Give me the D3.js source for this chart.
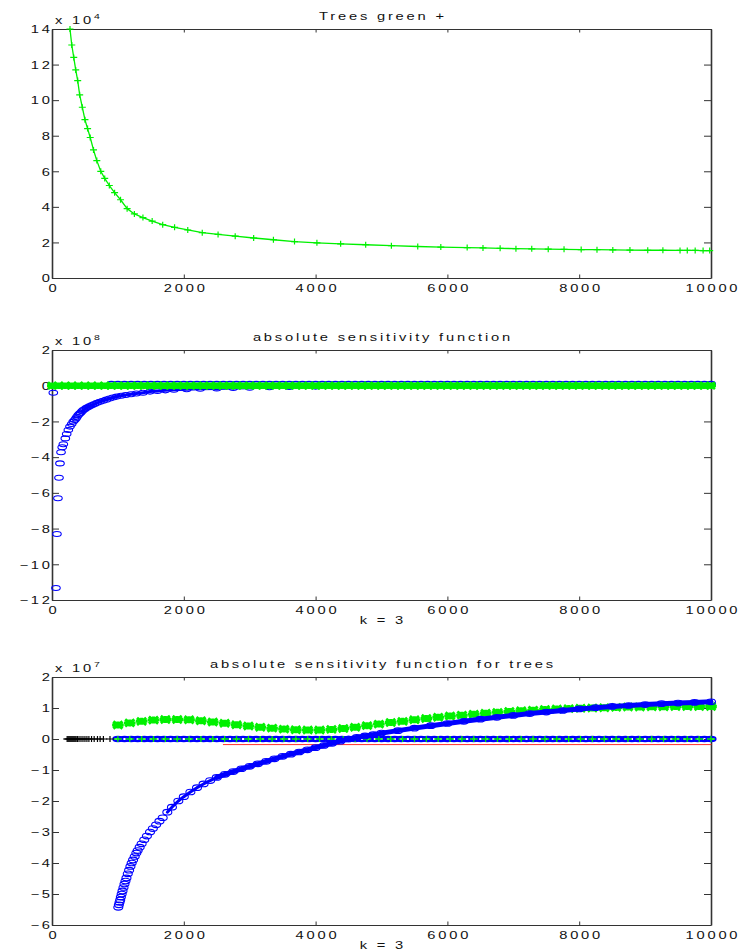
<!DOCTYPE html>
<html><head><meta charset="utf-8">
<script src="https://cdn.jsdelivr.net/npm/d3@7"></script>
<style>body{margin:0;background:#fff}</style>
</head><body><svg id="c" width="740" height="951"></svg>
<script>
// ---------- data ----------
const xTicks = [0, 2000, 4000, 6000, 8000, 10000];
const p1Ticks = [0, 2, 4, 6, 8, 10, 12, 14];
const p2Ticks = [-12, -10, -8, -6, -4, -2, 0, 2];
const p3Ticks = [-6, -5, -4, -3, -2, -1, 0, 1, 2];
const titles = ["Trees green +", "absolute sensitivity function", "absolute sensitivity function for trees"];
const exponents = ["4", "8", "7"];
const xLabel = "k = 3";

const kGrid = [0,100,200,300,400,500,600,700,800,900,1000,1100,1200,1300,1400,1500,1600,1700,1800,1900,2000,2100,2200,2300,2400,2500,2600,2700,2800,2900,3000,3100,3200,3300,3400,3500,3600,3700,3800,3900,4000,4100,4200,4300,4400,4500,4600,4700,4800,4900,5000,5100,5200,5300,5400,5500,5600,5700,5800,5900,6000,6100,6200,6300,6400,6500,6600,6700,6800,6900,7000,7100,7200,7300,7400,7500,7600,7700,7800,7900,8000,8100,8200,8300,8400,8500,8600,8700,8800,8900,9000,9100,9200,9300,9400,9500,9600,9700,9800,9900,10000];

// panel 1: trees (x 1e4)
const p1K = [273,300,330,360,390,420,460,500,540,580,630,680,740,800,870,950,1040,1140,1250,1380,1520,1680,1860,2060,2280,2520,2780,3060,3360,3680,4020,4380,4760,5150,5550,5900,6300,6540,6800,7040,7280,7530,7770,8030,8270,8510,8770,9040,9270,9530,9640,9760,9880,9980];
const p1V = [14.0,13.1,12.4,11.7,11.1,10.3,9.6,8.9,8.4,7.9,7.2,6.6,6.0,5.6,5.2,4.8,4.4,3.9,3.6,3.4,3.2,3.0,2.85,2.7,2.55,2.45,2.35,2.25,2.15,2.05,1.98,1.92,1.87,1.82,1.77,1.74,1.71,1.69,1.67,1.65,1.64,1.62,1.61,1.60,1.59,1.58,1.57,1.56,1.56,1.55,1.55,1.55,1.54,1.54];

// panel 2 (x 1e8)
const p2GreenLevel = 0;
const p2BlueFlatLevel = 0.1;
const p2BlueFlatStart = 900;
const p2BlueK = [20,60,75,90,106,121,137,155,172,202,223,248,273,299,323,345,364,380,399,417,435,455,475,500,525,550,577,610,645,685,728,775,825,875,925,982,1050,1120,1200,1280,1380,1487,1600,1720,1850,2044,2250,2500,2750,3000,3300,3600,4000];
const p2BlueV = [-0.39,-11.33,-8.3,-6.3,-5.15,-4.35,-3.73,-3.45,-3.28,-2.95,-2.7,-2.48,-2.29,-2.14,-2.01,-1.92,-1.83,-1.74,-1.64,-1.57,-1.51,-1.43,-1.36,-1.3,-1.24,-1.19,-1.14,-1.08,-1.03,-0.96,-0.9,-0.84,-0.78,-0.72,-0.66,-0.61,-0.56,-0.52,-0.48,-0.44,-0.39,-0.33,-0.29,-0.26,-0.23,-0.2,-0.17,-0.15,-0.13,-0.11,-0.09,-0.07,-0.05];

// panel 3 (x 1e7)
const p3BlackK = [230,245,260,275,290,305,320,335,350,365,385,410,440,470,500,530,560,600,640,690,730,780,880];
const p3BlackLevel = 0;
const p3BlueZeroStart = 1000;
const p3BlueZeroLevel = 0;
const p3GreenK = [1000,1180,1360,1540,1720,1900,2080,2260,2440,2620,2800,2980,3160,3340,3520,3700,3880,4060,4240,4420,4600,4780,4960,5140,5320,5500,5680,5860,6040,6220,6400,6580,6760,6940,7120,7300,7480,7660,7840,8020,8200,8380,8560,8740,8920,9100,9280,9460,9640,9820,10000];
const p3GreenV = [0.45,0.52,0.57,0.61,0.63,0.63,0.62,0.59,0.55,0.51,0.46,0.42,0.38,0.35,0.32,0.30,0.29,0.29,0.31,0.34,0.38,0.43,0.48,0.53,0.57,0.62,0.66,0.70,0.74,0.77,0.80,0.83,0.86,0.89,0.91,0.93,0.95,0.97,0.98,0.99,1.00,1.01,1.02,1.03,1.03,1.04,1.04,1.05,1.05,1.05,1.05];
const p3GreenZeroLevel = 0;
const p3RedK = [2600, 10000];
const p3RedV = [-0.18, -0.18];
const p3BlueK = [1006,1015,1025,1035,1045,1057,1070,1085,1100,1115,1130,1150,1170,1190,1209,1230,1255,1280,1300,1330,1360,1400,1440,1487,1530,1580,1630,1680,1750,1820,1917,2000,2100,2200,2300,2400,2500,2625,2750,2875,3000,3125,3250,3375,3500,3625,3750,3875,4000,4125,4250,4375,4500,4625,4750,4875,5000,5250,5500,5750,6000,6250,6500,6750,7000,7250,7500,7750,8000,8250,8500,8750,9000,9250,9500,9750,10000];
const p3BlueV = [-5.43,-5.35,-5.27,-5.19,-5.10,-5.00,-4.90,-4.79,-4.68,-4.58,-4.48,-4.35,-4.23,-4.11,-4.00,-3.90,-3.79,-3.68,-3.60,-3.49,-3.38,-3.25,-3.13,-3.00,-2.89,-2.77,-2.65,-2.54,-2.36,-2.20,-2.00,-1.86,-1.71,-1.57,-1.45,-1.34,-1.24,-1.14,-1.05,-0.96,-0.88,-0.80,-0.72,-0.64,-0.56,-0.49,-0.42,-0.35,-0.28,-0.21,-0.14,-0.07,0.00,0.05,0.10,0.14,0.19,0.27,0.35,0.43,0.50,0.57,0.64,0.70,0.76,0.82,0.87,0.92,0.97,1.01,1.05,1.08,1.11,1.14,1.16,1.18,1.20];

// ---------- drawing ----------
const FONT = "'Liberation Sans', Arial, Helvetica, sans-serif";
const FS = 10.5, LS = 2.0, SX = 1.4;
const GREEN = "#00f000", BLUE = "#0000ff", RED = "#ff3030", AX = "#333", TXT = "#111";
const svg = d3.select("#c");
const x = d3.scaleLinear().domain([0, 10000]).range([52, 711]);

const panels = [
  {top: 29, bottom: 278, domain: [0, 14], ticks: p1Ticks, xlab: false},
  {top: 350, bottom: 600, domain: [-12, 2], ticks: p2Ticks, xlab: true},
  {top: 677, bottom: 925, domain: [-6, 2], ticks: p3Ticks, xlab: true}
];

function styleText(sel, anchor) {
  const dx = anchor === "middle" ? LS / 2 : anchor === "end" ? LS : 0;
  return sel.attr("x", dx).attr("text-anchor", anchor)
    .style("font-family", FONT).style("font-size", FS + "px").style("letter-spacing", LS + "px")
    .attr("fill", TXT);
}
function txt(g, px, py, s, anchor) {
  const t = g.append("text").attr("transform", `translate(${px},${py}) scale(${SX},1)`).text(s);
  return styleText(t, anchor);
}
const pts = (ks, vs) => ks.map((k, i) => ({k, v: Array.isArray(vs) ? vs[i] : vs}));
const plusD = (cx, cy, w, h) => `M${cx - w},${cy}H${cx + w}M${cx},${cy - h}V${cy + h}`;
const starD = (cx, cy, w, h) => plusD(cx, cy, w, h) + `M${cx - w * 0.8},${cy - h}L${cx + w * 0.8},${cy + h}M${cx - w * 0.8},${cy + h}L${cx + w * 0.8},${cy - h}`;

function markers(g, data, y, shape, color, sw, w, h) {
  const s = g.append("g").attr("fill", "none").attr("stroke", color).attr("stroke-width", sw);
  if (shape === "o") {
    s.selectAll("ellipse").data(data).join("ellipse")
      .attr("cx", d => x(d.k)).attr("cy", d => y(d.v)).attr("rx", w).attr("ry", h);
  } else {
    const f = shape === "+" ? plusD : starD;
    s.selectAll("path").data(data).join("path").attr("d", d => f(x(d.k), y(d.v), w, h));
  }
}
function linePath(g, data, y, color, sw) {
  g.append("path").datum(data).attr("fill", "none").attr("stroke", color).attr("stroke-width", sw)
    .attr("stroke-linejoin", "round").attr("stroke-linecap", "round")
    .attr("d", d3.line().x(d => x(d.k)).y(d => y(d.v)));
}

const ys = panels.map((p, i) => {
  const y = d3.scaleLinear().domain(p.domain).range([p.bottom, p.top]);
  const g = svg.append("g");
  const fmt = d3.format("d");
  const styleAxis = (a, sw) => {
    a.attr("color", AX).style("font-family", FONT);
    a.select(".domain").attr("stroke-width", sw);
    a.selectAll(".tick line").attr("stroke-width", 1);
  };
  // bottom
  const ab = g.append("g").attr("transform", `translate(0,${p.bottom})`)
    .call(d3.axisBottom(x).tickValues(xTicks).tickFormat(fmt).tickSizeInner(-3.5).tickSizeOuter(0));
  styleAxis(ab, 1);
  styleText(ab.selectAll("text").attr("y", 0).attr("dy", null)
    .attr("transform", `translate(0,14) scale(${SX},1)`), "middle");
  // top
  const at = g.append("g").attr("transform", `translate(0,${p.top})`)
    .call(d3.axisTop(x).tickValues(xTicks).tickFormat("").tickSizeInner(-3.5).tickSizeOuter(0));
  styleAxis(at, 1);
  // left
  const al = g.append("g").attr("transform", `translate(${x.range()[0]},0)`)
    .call(d3.axisLeft(y).tickValues(p.ticks).tickFormat(fmt).tickSizeInner(-7).tickSizeOuter(0));
  styleAxis(al, 1.6);
  styleText(al.selectAll("text").attr("dy", null).attr("y", 0)
    .attr("transform", `translate(-2,3.8) scale(${SX},1)`), "end");
  // right
  const ar = g.append("g").attr("transform", `translate(${x.range()[1]},0)`)
    .call(d3.axisRight(y).tickValues(p.ticks).tickFormat("").tickSizeInner(-7).tickSizeOuter(0));
  styleAxis(ar, 1.6);
  // title
  txt(g, (x.range()[0] + x.range()[1]) / 2, p.top - 9, titles[i], "middle");
  // exponent
  const e = txt(g, 55, p.top - 5, "x 10", "start");
  e.append("tspan").attr("dy", -5).style("font-size", "7.5px").style("letter-spacing", "0px").text(exponents[i]);
  if (p.xlab) txt(g, (x.range()[0] + x.range()[1]) / 2, p.bottom + 24, xLabel, "middle");
  return {y, g};
});

// ----- panel 1 -----
{
  const {y, g} = ys[0];
  const d = pts(p1K, p1V);
  linePath(g, d, y, GREEN, 1.3);
  markers(g, d, y, "+", GREEN, 1.2, 3.5, 3);
}
// ----- panel 2 -----
{
  const {y, g} = ys[1];
  const bd = pts(p2BlueK, p2BlueV);
  linePath(g, bd.filter(d => d.k >= 450), y, BLUE, 3);
  markers(g, bd, y, "o", BLUE, 1.1, 4.3, 2.5);
  markers(g, pts(kGrid.filter(k => k >= p2BlueFlatStart), p2BlueFlatLevel), y, "o", BLUE, 1.4, 4.3, 2.5);
  markers(g, pts(kGrid, p2GreenLevel), y, "*", GREEN, 2.8, 5, 3.3);
}
// ----- panel 3 -----
{
  const {y, g} = ys[2];
  linePath(g, pts(p3RedK, p3RedV), y, RED, 1);
  markers(g, pts(kGrid.filter(k => k >= p3BlueZeroStart), p3BlueZeroLevel), y, "o", BLUE, 2.2, 4.5, 2.2);
  markers(g, pts(p3GreenK, p3GreenZeroLevel), y, "+", GREEN, 1.3, 4, 3);
  markers(g, pts(p3BlackK, p3BlackLevel), y, "+", "#000", 1.2, 4, 3);
  markers(g, pts(p3GreenK, p3GreenV), y, "*", GREEN, 3, 5.8, 3.5);
  const bd = pts(p3BlueK, p3BlueV);
  linePath(g, bd.filter(d => d.k >= 1750 && d.k < 2625), y, BLUE, 3);
  linePath(g, bd.filter(d => d.k >= 2500), y, BLUE, 5);
  markers(g, bd, y, "o", BLUE, 1.1, 4.5, 2.8);
}
</script></body></html>
